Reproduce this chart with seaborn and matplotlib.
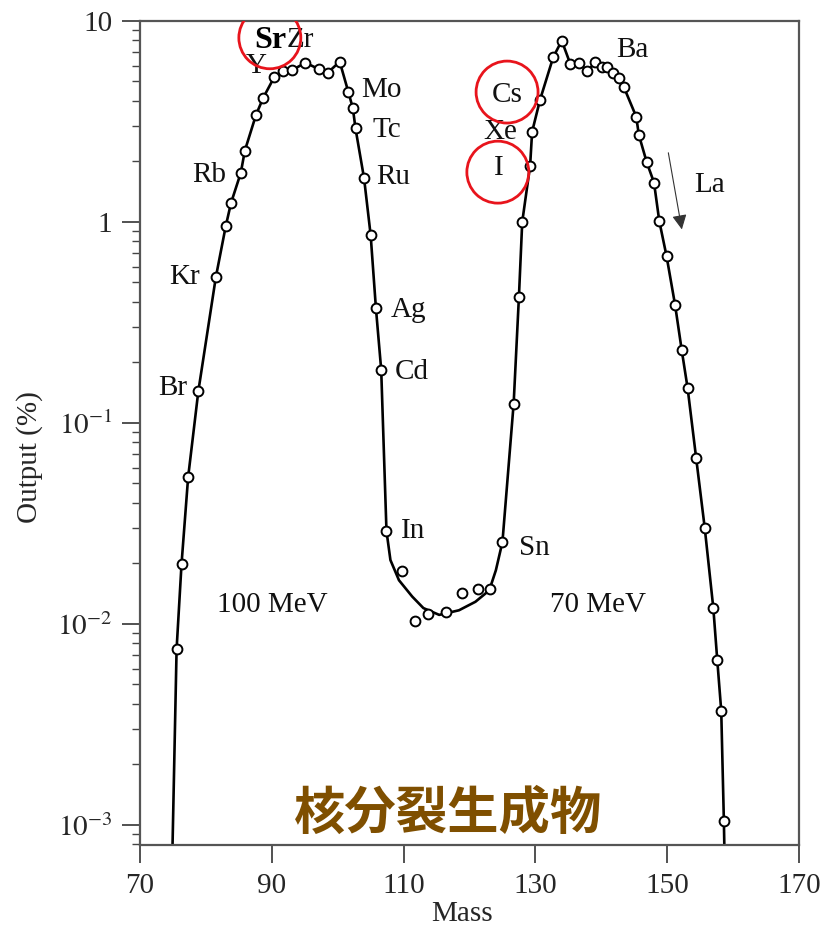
import numpy as np
import pandas as pd
import matplotlib
matplotlib.use("Agg")
import matplotlib.pyplot as plt
from matplotlib.ticker import FixedLocator, LogLocator, NullFormatter, NullLocator
import seaborn as sns

# measured fission-product points (open circles)
pt_mass = [75.55, 76.3, 77.3, 78.85, 81.5, 83.0, 83.8, 85.3, 85.9, 87.6, 88.7, 90.4,
           91.7, 93.1, 95.1, 97.1, 98.5, 100.3, 101.6, 102.3, 102.7, 104.0, 105.0,
           105.8, 106.6, 107.4, 109.7, 111.7, 113.75, 116.5, 118.8, 121.3, 123.1,
           125.0, 126.7, 127.5, 128.0, 129.2, 129.5, 130.7, 132.7, 134.0, 135.3,
           136.6, 137.9, 139.1, 140.1, 140.9, 141.8, 142.7, 143.4, 145.3, 145.7,
           146.9, 148.0, 148.8, 149.9, 151.2, 152.2, 153.1, 154.4, 155.7, 157.0,
           157.6, 158.2, 158.6]
pt_out = [0.0075, 0.0199, 0.0537, 0.144, 0.53, 0.95, 1.24, 1.76, 2.26, 3.41, 4.15, 5.28,
          5.64, 5.70, 6.20, 5.77, 5.53, 6.28, 4.45, 3.68, 2.92, 1.65, 0.86,
          0.372, 0.184, 0.029, 0.0184, 0.0103, 0.0112, 0.0115, 0.0143, 0.0149, 0.0149,
          0.0256, 0.125, 0.425, 1.0, 1.91, 2.81, 4.05, 6.6, 7.98, 6.11,
          6.15, 5.64, 6.23, 5.93, 5.93, 5.53, 5.19, 4.71, 3.34, 2.71,
          1.98, 1.57, 1.01, 0.677, 0.386, 0.231, 0.149, 0.0667, 0.030, 0.012,
          0.0066, 0.0037, 0.00105]

# fitted curve
line_mass = [74.9, 75.55, 76.3, 77.3, 78.85, 81.5, 83.0, 83.8, 85.3, 85.9, 87.6, 88.7,
             90.4, 91.7, 93.1, 95.1, 97.1, 98.5, 100.3, 101.6, 102.3, 102.7, 104.0,
             105.0, 105.8, 106.6, 107.4, 108.0, 109.3, 111.3, 113.0, 115.4, 118.4,
             120.9, 123.0, 124.0, 125.0, 126.7, 127.5, 128.0, 129.2, 129.5, 130.7,
             132.7, 134.0, 135.3, 136.6, 137.9, 139.1, 140.1, 140.9, 141.8, 142.7,
             143.4, 145.3, 145.7, 146.9, 148.0, 148.8, 149.9, 151.2, 152.2, 153.1,
             154.4, 155.7, 157.0, 157.6, 158.2, 158.6, 158.7]
line_out = [0.0007, 0.0075, 0.0199, 0.0537, 0.144, 0.53, 0.95, 1.24, 1.76, 2.26, 3.41, 4.15,
            5.28, 5.64, 5.70, 6.20, 5.77, 5.53, 6.28, 4.45, 3.68, 2.92, 1.65,
            0.86, 0.372, 0.184, 0.029, 0.0208, 0.0165, 0.0137, 0.0120, 0.0111, 0.0117,
            0.0129, 0.0147, 0.0185, 0.0256, 0.125, 0.425, 1.0, 1.91, 2.81, 4.05,
            6.6, 7.98, 6.11, 6.15, 5.64, 6.23, 5.93, 5.93, 5.53, 5.19,
            4.71, 3.34, 2.71, 1.98, 1.57, 1.01, 0.677, 0.386, 0.231, 0.149,
            0.0667, 0.030, 0.012, 0.0066, 0.0037, 0.00105, 0.0007]

# element labels
el_text = ["Zr", "Y", "Mo", "Tc", "Ru", "Rb", "Kr", "Br", "Ag", "Cd", "In", "Sn",
           "Ba", "Cs", "Xe", "I", "La", "100 MeV", "70 MeV"]
el_mass = [94.4, 87.7, 106.7, 107.5, 108.4, 80.5, 76.8, 74.9, 110.7, 111.3, 111.4, 129.9,
           144.7, 125.7, 124.6, 124.5, 156.5, 90.0, 139.5]
el_out = [8.04, 6.0, 4.53, 2.87, 1.67, 1.71, 0.53, 0.149, 0.365, 0.18, 0.029, 0.024,
          7.17, 4.28, 2.8, 1.86, 1.53, 0.0124, 0.0124]

# red circled elements
circ_mass = [89.7, 125.7, 124.3]
circ_out = [8.25, 4.43, 1.77]

ytick_vals = [1e-3, 1e-2, 1e-1, 1, 10]
ytick_labels = [r"$10^{-3}$", r"$10^{-2}$", r"$10^{-1}$", "1", "10"]
xtick_vals = [70, 90, 110, 130, 150, 170]

sns.set_theme(style="ticks")
plt.rcParams["font.family"] = ["Liberation Serif", "DejaVu Serif"]
plt.rcParams["mathtext.fontset"] = "stix"

fig = plt.figure(figsize=(8.29, 9.33), dpi=100)
ax = fig.add_axes([0.1689, 0.0943, 0.7949, 0.8832])
ax.set_yscale("log")

curve = pd.DataFrame({"mass": line_mass, "out": line_out})
pts = pd.DataFrame({"mass": pt_mass, "out": pt_out})
sns.lineplot(data=curve, x="mass", y="out", color="black", lw=1.9,
             estimator=None, sort=False, ax=ax, zorder=2)
sns.scatterplot(data=pts, x="mass", y="out", marker="o", s=50, color="white",
                edgecolor="black", linewidth=1.4, ax=ax, zorder=3)

for t, m, o in zip(el_text, el_mass, el_out):
    ax.text(m, o, t, fontsize=21, ha="center", va="center", color="#111111", zorder=4)
ax.text(89.7, 8.04, "Sr", fontsize=23, fontweight="bold", ha="center", va="center",
        color="black", zorder=5)
ax.scatter(circ_mass, circ_out, s=1990, facecolors="none", edgecolors="#e8141c",
           linewidths=2.0, zorder=6)

ax.annotate("", xy=(152.3, 0.89), xytext=(150.1, 2.28),
            arrowprops=dict(arrowstyle="-|>", color="#333333", lw=0.8, mutation_scale=22))

ax.set_xlim(70, 170)
ax.set_ylim(7.95e-4, 10)
ax.xaxis.set_major_locator(FixedLocator(xtick_vals))
ax.xaxis.set_minor_locator(NullLocator())
ax.yaxis.set_major_locator(FixedLocator(ytick_vals))
ax.set_yticklabels(ytick_labels)
ax.yaxis.set_minor_locator(LogLocator(base=10, subs=np.arange(2, 10)))
ax.yaxis.set_minor_formatter(NullFormatter())
ax.tick_params(axis="both", which="major", direction="out", length=13, width=1.2,
               color="#333333", labelsize=21, pad=7)
ax.tick_params(axis="y", which="minor", direction="out", length=6, width=1.0, color="#444444")
for s in ax.spines.values():
    s.set_color("#555555")
    s.set_linewidth(1.6)

ax.set_xlabel("Mass", fontsize=21)
ax.set_ylabel("Output (%)", fontsize=21)
ax.xaxis.set_label_coords(0.489, -0.068)
ax.yaxis.set_label_coords(-0.147, 0.471)

fig.text(448 / 829, 1 - 813 / 933, "核分裂生成物", fontsize=37, fontweight="bold",
         color="#7f4f00", ha="center", va="center",
         family=["Noto Sans CJK JP", "DejaVu Sans"])

fig.savefig("out.png", dpi=100)
